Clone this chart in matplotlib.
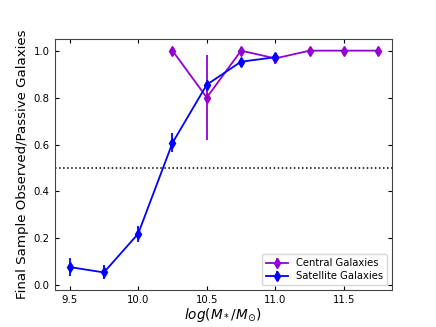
import matplotlib
matplotlib.use("Agg")
import matplotlib.pyplot as plt

cen_x = [10.25, 10.5, 10.75, 11.0, 11.25, 11.5, 11.75]
cen_y = [1.0, 0.80, 1.0, 0.967, 1.0, 1.0, 1.0]
cen_err = [0.012, 0.18, 0.01, 0.025, 0.01, 0.01, 0.01]

sat_x = [9.5, 9.75, 10.0, 10.25, 10.5, 10.75, 11.0]
sat_y = [0.078, 0.055, 0.22, 0.607, 0.855, 0.953, 0.972]
sat_err = [0.037, 0.030, 0.035, 0.040, 0.015, 0.015, 0.012]

fig = plt.figure(figsize=(4.36, 3.27), dpi=100)
ax = fig.add_axes([0.125, 0.113, 0.774, 0.768])

ax.errorbar(cen_x, cen_y, yerr=cen_err, color='#9400D3', marker='d', ms=5,
            lw=1.3, label='Central Galaxies')
ax.errorbar(sat_x, sat_y, yerr=sat_err, color='blue', marker='d', ms=5,
            lw=1.3, label='Satellite Galaxies')
ax.axhline(0.5, color='black', ls=':', lw=1.1)

ax.set_xlim(9.39, 11.85)
ax.set_ylim(-0.02, 1.05)
ax.set_xticks([9.5, 10.0, 10.5, 11.0, 11.5])
ax.set_yticks([0.0, 0.2, 0.4, 0.6, 0.8, 1.0])
ax.tick_params(direction='in', top=True, right=True, labelsize=7.3, length=3)
for s in ax.spines.values():
    s.set_color('#444444')
ax.set_xlabel(r'$log(M_*/M_{\odot})$', fontsize=9.8, labelpad=1)
ax.set_ylabel('Final Sample Observed/Passive Galaxies', fontsize=9.6, labelpad=3)
ax.legend(loc='lower right', fontsize=7.2, handlelength=2.2, borderpad=0.4,
          labelspacing=0.3)

fig.savefig('out.png', dpi=100)
